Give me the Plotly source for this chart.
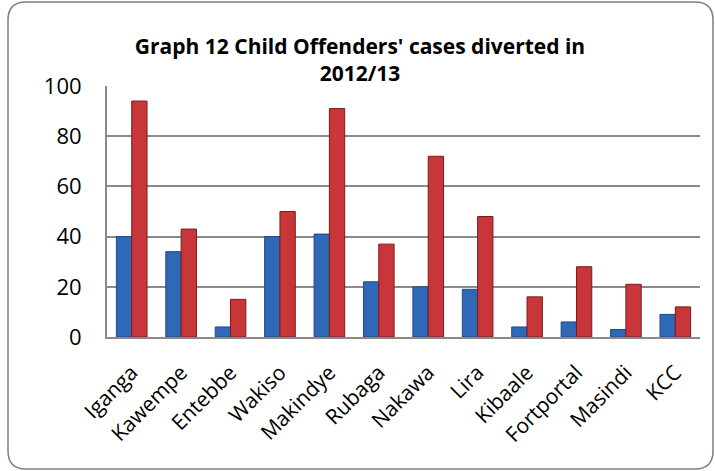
import plotly.graph_objects as go

categories = ["Iganga", "Kawempe", "Entebbe", "Wakiso", "Makindye", "Rubaga",
              "Nakawa", "Lira", "Kibaale", "Fortportal", "Masindi", "KCC"]
series_a = [40, 34, 4, 40, 41, 22, 20, 19, 4, 6, 3, 9]
series_b = [94, 43, 15, 50, 91, 37, 72, 48, 16, 28, 21, 12]
y_ticks = [0, 20, 40, 60, 80, 100]

W, H = 715, 471
L, R, T, B = 107, 15, 86, 134
pw, ph = W - L - R, H - T - B

def px(x):
    return (x - L) / pw

def py(y):
    return (H - B - y) / ph

fig = go.Figure()
fig.add_trace(go.Bar(x=categories, y=series_a, name="A",
                     marker=dict(color="#3068B8", line=dict(color="#1F4A88", width=1))))
fig.add_trace(go.Bar(x=categories, y=series_b, name="B",
                     marker=dict(color="#C8363A", line=dict(color="#7A1A1C", width=1))))

# rounded outer border
x0, x1, y0, y1, r = 8, 713, 2, 469, 18
path = (f"M {px(x0+r)},{py(y0)} L {px(x1-r)},{py(y0)} "
        f"Q {px(x1)},{py(y0)} {px(x1)},{py(y0+r)} "
        f"L {px(x1)},{py(y1-r)} Q {px(x1)},{py(y1)} {px(x1-r)},{py(y1)} "
        f"L {px(x0+r)},{py(y1)} Q {px(x0)},{py(y1)} {px(x0)},{py(y1-r)} "
        f"L {px(x0)},{py(y0+r)} Q {px(x0)},{py(y0)} {px(x0+r)},{py(y0)} Z")

fig.update_layout(
    width=W, height=H,
    margin=dict(l=L, r=R, t=T, b=B),
    paper_bgcolor="white", plot_bgcolor="white",
    showlegend=False,
    barmode="group", bargap=0.38, bargroupgap=0.0,
    font=dict(family="Open Sans, Liberation Sans, sans-serif", color="black"),
    title=dict(text="<b>Graph 12 Child Offenders' cases diverted in<br>2012/13</b>",
               x=360 / W, xanchor="center", xref="container", y=1 - 54 / H, yanchor="middle",
               font=dict(size=21, family="Open Sans, sans-serif")),
    xaxis=dict(tickangle=-45, tickfont=dict(size=21), showgrid=False,
               showline=True, linecolor="#8A8A8A", linewidth=2, ticks="",
               ticklabelstandoff=13),
    yaxis=dict(range=[0, 100], tickvals=y_ticks, tickfont=dict(size=22),
               showgrid=True, gridcolor="#8A8A8A", gridwidth=2,
               showline=True, linecolor="#8A8A8A", linewidth=2,
               zeroline=False, ticks="", ticklabelstandoff=19),
    shapes=[dict(type="path", xref="paper", yref="paper", path=path,
                 line=dict(color="#7F7F7F", width=1.5), layer="below")],
)

fig.write_html("out.html")
